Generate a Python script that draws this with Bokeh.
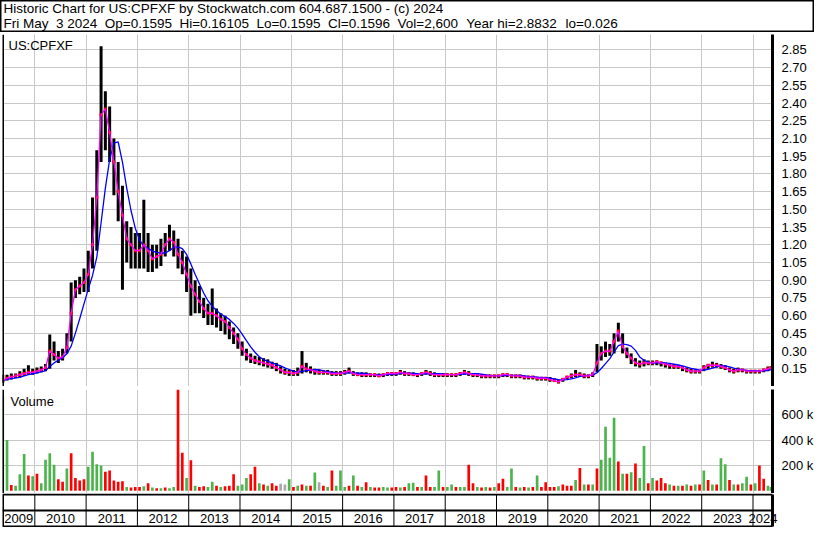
import pandas as pd
from bokeh.plotting import figure
from bokeh.layouts import column, row
from bokeh.models import Range1d, FixedTicker, PrintfTickFormatter, Span, Grid, Label
from bokeh.core.properties import value
from bokeh.embed import file_html
from bokeh.resources import INLINE

# ---------------- data (monthly, May 2009 .. May 2024) ----------------
months = pd.period_range("2009-05", "2024-05", freq="M")

close_2009 = [0.05, 0.07, 0.08, 0.09, 0.10, 0.11, 0.12, 0.12]
close_2010 = [0.13, 0.14, 0.16, 0.30, 0.27, 0.24, 0.25, 0.33, 0.62, 0.82, 0.85, 0.88]
close_2011 = [0.95, 1.20, 1.60, 2.30, 2.35, 2.15, 1.90, 1.65, 1.45, 1.25, 1.20, 1.15]
close_2012 = [1.15, 1.20, 1.15, 1.08, 1.10, 1.12, 1.20, 1.25, 1.22, 1.12, 1.05, 0.95]
close_2013 = [0.85, 0.78, 0.72, 0.66, 0.62, 0.62, 0.60, 0.57, 0.55, 0.50, 0.45, 0.40]
close_2014 = [0.32, 0.27, 0.24, 0.22, 0.21, 0.20, 0.19, 0.18, 0.16, 0.14, 0.12, 0.12]
close_2015 = [0.11, 0.12, 0.17, 0.15, 0.14, 0.13, 0.12, 0.12, 0.12, 0.11, 0.11, 0.11]
close_2016 = [0.12, 0.13, 0.11, 0.10, 0.10, 0.10, 0.10, 0.10, 0.09, 0.10, 0.11, 0.11]
close_2017 = [0.11, 0.12, 0.11, 0.11, 0.10, 0.10, 0.11, 0.12, 0.11, 0.10, 0.10, 0.10]
close_2018 = [0.10, 0.10, 0.10, 0.11, 0.12, 0.11, 0.10, 0.10, 0.09, 0.09, 0.09, 0.09]
close_2019 = [0.09, 0.10, 0.10, 0.09, 0.09, 0.09, 0.08, 0.08, 0.08, 0.07, 0.07, 0.07]
close_2020 = [0.06, 0.05, 0.04, 0.06, 0.08, 0.09, 0.10, 0.10, 0.09, 0.09, 0.10, 0.20]
close_2021 = [0.28, 0.30, 0.30, 0.38, 0.47, 0.34, 0.28, 0.24, 0.20, 0.19, 0.20, 0.20]
close_2022 = [0.20, 0.21, 0.20, 0.19, 0.18, 0.17, 0.17, 0.16, 0.14, 0.13, 0.13, 0.13]
close_2023 = [0.16, 0.18, 0.18, 0.18, 0.17, 0.16, 0.14, 0.13, 0.14, 0.14, 0.13, 0.13]
close_2024 = [0.13, 0.13, 0.14, 0.15, 0.16]

high_2009 = [0.10, 0.10, 0.11, 0.11, 0.13, 0.15, 0.18, 0.15]
high_2010 = [0.16, 0.17, 0.19, 0.44, 0.38, 0.30, 0.32, 0.45, 0.88, 0.90, 0.93, 1.00]
high_2011 = [1.15, 1.60, 2.00, 2.88, 2.50, 2.37, 2.10, 1.90, 1.70, 1.40, 1.35, 1.30]
high_2012 = [1.30, 1.58, 1.30, 1.20, 1.20, 1.25, 1.30, 1.37, 1.32, 1.25, 1.15, 1.10]
high_2013 = [1.00, 0.90, 0.85, 0.75, 0.70, 0.83, 0.66, 0.62, 0.60, 0.55, 0.50, 0.45]
high_2014 = [0.38, 0.32, 0.28, 0.26, 0.25, 0.24, 0.23, 0.21, 0.20, 0.17, 0.15, 0.14]
high_2015 = [0.14, 0.16, 0.30, 0.20, 0.17, 0.15, 0.14, 0.14, 0.14, 0.13, 0.13, 0.13]
high_2016 = [0.14, 0.16, 0.13, 0.12, 0.12, 0.12, 0.11, 0.11, 0.11, 0.11, 0.12, 0.12]
high_2017 = [0.12, 0.14, 0.13, 0.12, 0.12, 0.11, 0.12, 0.14, 0.13, 0.12, 0.11, 0.11]
high_2018 = [0.11, 0.11, 0.11, 0.12, 0.14, 0.13, 0.11, 0.11, 0.10, 0.10, 0.10, 0.10]
high_2019 = [0.10, 0.11, 0.11, 0.10, 0.10, 0.10, 0.09, 0.09, 0.09, 0.08, 0.08, 0.08]
high_2020 = [0.08, 0.07, 0.06, 0.07, 0.09, 0.11, 0.14, 0.12, 0.11, 0.10, 0.12, 0.36]
high_2021 = [0.34, 0.38, 0.36, 0.45, 0.54, 0.45, 0.33, 0.28, 0.24, 0.22, 0.23, 0.22]
high_2022 = [0.22, 0.22, 0.21, 0.20, 0.19, 0.19, 0.18, 0.17, 0.16, 0.15, 0.14, 0.14]
high_2023 = [0.18, 0.19, 0.21, 0.20, 0.19, 0.18, 0.16, 0.15, 0.16, 0.15, 0.14, 0.14]
high_2024 = [0.14, 0.14, 0.15, 0.17, 0.161]

low_2009 = [0.03, 0.05, 0.06, 0.07, 0.08, 0.09, 0.10, 0.10]
low_2010 = [0.11, 0.12, 0.13, 0.15, 0.22, 0.20, 0.22, 0.28, 0.38, 0.75, 0.78, 0.80]
low_2011 = [0.80, 1.00, 1.15, 1.90, 2.00, 1.90, 1.62, 1.40, 0.82, 1.05, 1.00, 1.00]
low_2012 = [1.00, 1.00, 0.97, 0.97, 1.00, 1.02, 1.10, 1.15, 1.10, 1.00, 0.95, 0.80]
low_2013 = [0.60, 0.62, 0.62, 0.58, 0.52, 0.52, 0.50, 0.47, 0.44, 0.40, 0.36, 0.32]
low_2014 = [0.26, 0.22, 0.20, 0.19, 0.18, 0.17, 0.16, 0.15, 0.13, 0.11, 0.10, 0.09]
low_2015 = [0.09, 0.09, 0.11, 0.12, 0.11, 0.10, 0.10, 0.10, 0.10, 0.09, 0.09, 0.09]
low_2016 = [0.10, 0.11, 0.09, 0.09, 0.08, 0.08, 0.08, 0.08, 0.08, 0.08, 0.09, 0.09]
low_2017 = [0.09, 0.10, 0.09, 0.09, 0.09, 0.08, 0.09, 0.10, 0.09, 0.08, 0.08, 0.08]
low_2018 = [0.08, 0.08, 0.08, 0.09, 0.10, 0.09, 0.08, 0.08, 0.07, 0.07, 0.07, 0.07]
low_2019 = [0.07, 0.08, 0.08, 0.07, 0.07, 0.07, 0.06, 0.06, 0.06, 0.05, 0.05, 0.05]
low_2020 = [0.04, 0.04, 0.026, 0.04, 0.06, 0.07, 0.08, 0.08, 0.07, 0.07, 0.08, 0.12]
low_2021 = [0.22, 0.25, 0.26, 0.28, 0.38, 0.28, 0.24, 0.19, 0.17, 0.16, 0.17, 0.18]
low_2022 = [0.18, 0.18, 0.17, 0.16, 0.15, 0.15, 0.15, 0.13, 0.12, 0.11, 0.11, 0.11]
low_2023 = [0.13, 0.15, 0.16, 0.16, 0.15, 0.14, 0.12, 0.11, 0.12, 0.12, 0.11, 0.11]
low_2024 = [0.11, 0.11, 0.12, 0.13, 0.1595]

# volume in thousands of shares
vol_2009 = [750, 400, 45, 40, 130, 290, 120, 115]
vol_2010 = [135, 60, 245, 296, 205, 90, 70, 175, 296, 100, 80, 90]
vol_2011 = [190, 307, 210, 200, 150, 160, 80, 70, 75, 30, 25, 30]
vol_2012 = [30, 35, 60, 25, 20, 20, 25, 20, 30, 950, 300, 100]
vol_2013 = [240, 40, 30, 35, 30, 70, 40, 30, 35, 40, 130, 40]
vol_2014 = [50, 100, 130, 190, 60, 50, 40, 60, 40, 55, 50, 90]
vol_2015 = [30, 40, 50, 40, 40, 144, 66, 40, 30, 160, 40, 160]
vol_2016 = [30, 40, 120, 40, 30, 66, 30, 25, 25, 30, 25, 25]
vol_2017 = [30, 25, 30, 60, 63, 30, 30, 120, 30, 30, 160, 30]
vol_2018 = [30, 50, 30, 30, 30, 205, 60, 30, 25, 30, 25, 30]
vol_2019 = [60, 95, 30, 175, 30, 25, 30, 25, 30, 120, 30, 66]
vol_2020 = [30, 30, 35, 50, 40, 40, 85, 180, 50, 50, 50, 175]
vol_2021 = [245, 505, 260, 577, 230, 135, 135, 145, 215, 100, 353, 60]
vol_2022 = [100, 80, 100, 60, 50, 40, 40, 40, 50, 40, 50, 50]
vol_2023 = [160, 85, 50, 50, 257, 210, 85, 50, 50, 60, 110, 50]
vol_2024 = [60, 200, 95, 40, 30]

# u = up (green), d = down (red), n = unchanged (grey)
dir_2009 = "uuduuudu"
dir_2010 = "duuuuddudddd"
dir_2011 = "uuuudddddudd"
dir_2012 = "dudududuuddu"
dir_2013 = "dudduududddu"
dir_2014 = "uuddududdnnu"
dir_2015 = "dududunduduu"
dir_2016 = "ududududduud"
dir_2017 = "duduududduud"
dir_2018 = "uuduuddududu"
dir_2019 = "dduududududd"
dir_2020 = "ddudddududud"
dir_2021 = "uuuudududuud"
dir_2022 = "udddudududud"
dir_2023 = "ududuududuud"
dir_2024 = "udduu"

price_ticks = [0.15, 0.30, 0.45, 0.60, 0.75, 0.90, 1.05, 1.20, 1.35, 1.50,
               1.65, 1.80, 1.95, 2.10, 2.25, 2.40, 2.55, 2.70, 2.85]
volume_ticks = [200000, 400000, 600000]
volume_tick_labels = {200000: "200 k", 400000: "400 k", 600000: "600 k"}
year_labels = [str(y) for y in range(2009, 2025)]

title_line1 = "Historic Chart for US:CPFXF by Stockwatch.com 604.687.1500 - (c) 2024"
title_line2 = ["Fri May", "3 2024", "Op=0.1595", "Hi=0.16105", "Lo=0.1595",
               "Cl=0.1596", "Vol=2,600", "Year hi=2.8832", "lo=0.026"]
symbol = "US:CPFXF"

# ---------------- assemble ----------------
def cat(prefix):
    out = []
    for y in range(2009, 2025):
        out += globals()[f"{prefix}_{y}"]
    return out

close = cat("close")
high = cat("high")
low = cat("low")
vol_k = cat("vol")
vdir = "".join(globals()[f"dir_{y}"] for y in range(2009, 2025))

X0, X1 = 2009.37, 2024.38
xs = [min(m.year + (m.month - 0.5) / 12.0, X1 - 0.03) for m in months]
ma_short = close
ma_long = pd.Series(close).rolling(5, min_periods=1).mean().tolist()
volume = [v * 1000 for v in vol_k]
vcol = {"u": "#4db34d", "d": "#ff0000", "n": "#a8a8a8"}
vcolors = [vcol[c] for c in vdir]

FONT = "Liberation Sans"
GRID = "#c8c8c8"
W = 814
FW = 770
HH = 32
xr = Range1d(X0, X1)
year_bounds = list(range(2010, 2025))
px_per_x = (X1 - X0) / FW

# Arial / Liberation Sans advance widths (per 1000 em) used to lay out title tokens
ADV = {" ": 278, ",": 278, ".": 278, ":": 278, "=": 584, "-": 333, "(": 333, ")": 333,
       "F": 611, "M": 833, "O": 778, "H": 722, "L": 556, "C": 722, "V": 667, "Y": 667,
       "a": 556, "e": 556, "h": 556, "i": 222, "l": 222, "o": 556, "p": 556, "r": 333,
       "y": 500}


def adv(s, size):
    return sum(ADV.get(ch, 556) for ch in s) * size / 1000.0


def bare(fw, fh, xrange, yrange, left=0):
    p = figure(frame_width=fw, frame_height=fh, x_range=xrange, y_range=yrange,
               toolbar_location=None, output_backend="svg", title=None,
               x_axis_location=None, y_axis_location=None,
               min_border_left=left, min_border_right=0, min_border_top=0, min_border_bottom=0,
               outline_line_color=None)
    p.grid.visible = False
    return p


def panel(fh, yr):
    p = figure(frame_width=FW, frame_height=fh, x_range=xr, y_range=yr,
               toolbar_location=None, output_backend="svg", title=None,
               x_axis_location=None, y_axis_location="right",
               min_border_left=2, min_border_right=42,
               min_border_top=0, min_border_bottom=0,
               outline_line_color=None)
    p.grid.visible = False
    p.add_layout(Span(location=X0, dimension="height", line_color="black", line_width=3))
    ax = p.yaxis[0]
    ax.major_tick_line_color = None
    ax.minor_tick_line_color = None
    ax.axis_line_color = "black"
    ax.axis_line_width = 3
    ax.major_label_text_font = FONT
    ax.major_label_text_font_size = "13px"
    ax.major_label_text_color = "black"
    ax.major_label_standoff = 3
    return p


# header
TS = 13.5
hdr = figure(frame_width=W, frame_height=HH, x_range=Range1d(0, W), y_range=Range1d(0, HH),
             toolbar_location=None, output_backend="svg", title=None,
             x_axis_location=None, y_axis_location=None,
             min_border_left=0, min_border_right=0, min_border_top=0, min_border_bottom=0,
             outline_line_color="black", outline_line_width=2)
hdr.grid.visible = False
hx2 = []
cur = 3.0
for tok in title_line2:
    hx2.append(cur)
    cur += adv(tok, TS) + adv("  ", TS)
hdr.text(x=[3.0], y=[HH - 0.8], text=[title_line1], text_font=value(FONT),
         text_font_size=value(f"{TS}px"), text_baseline="top", text_color="black")
hdr.text(x=hx2, y=[HH - 15.2] * len(hx2), text=title_line2,
         text_font=value(FONT), text_font_size=value(f"{TS}px"), text_baseline="top",
         text_color="black")

# full-width rule under the header
sep_a = bare(W, 2, Range1d(0, W), Range1d(0, 2))
sep_a.hbar(y=[1], height=2, left=0, right=W, fill_color="black", line_color=None)

# price panel
PH = 352
YP1 = 2.98
pp = panel(PH, Range1d(0, YP1))
pp.yaxis[0].ticker = FixedTicker(ticks=price_ticks)
pp.yaxis[0].formatter = PrintfTickFormatter(format="%.2f")
pp.add_layout(Grid(dimension=1, ticker=FixedTicker(ticks=price_ticks),
                   grid_line_color=GRID, grid_line_width=1))
pp.add_layout(Grid(dimension=0, ticker=FixedTicker(ticks=year_bounds),
                   grid_line_color=GRID, grid_line_width=1))
pp.segment(x0=xs, y0=low, x1=xs, y1=high, line_color="black", line_width=3)
pp.rect(x=xs, y=close, width=3, height=3, width_units="screen", height_units="screen",
        fill_color="#ff0000", line_color=None)
pp.line(xs, ma_long, line_color="#0000ff", line_width=1.3)
pp.line(xs, ma_short, line_color="#ff00ff", line_width=1.3)
pp.add_layout(Label(x=X0 + 6 * px_per_x, y=YP1 - 3 * YP1 / PH, text=symbol,
                    text_font=FONT, text_font_size="13px", text_baseline="top",
                    text_color="black"))

# full-width double rule between price and volume
sep_b = bare(W, 3, Range1d(0, W), Range1d(0, 3))
sep_b.hbar(y=[0.5, 2.5], height=1, left=0, right=W, fill_color="black", line_color=None)

# volume panel
VH = 104
V0, V1 = -22000, 800000
pv = panel(VH, Range1d(V0, V1))
pv.yaxis[0].ticker = FixedTicker(ticks=volume_ticks)
pv.yaxis[0].major_label_overrides = volume_tick_labels
pv.add_layout(Grid(dimension=1, ticker=FixedTicker(ticks=volume_ticks),
                   grid_line_color=GRID, grid_line_width=1))
pv.add_layout(Grid(dimension=0, ticker=FixedTicker(ticks=year_bounds),
                   grid_line_color=GRID, grid_line_width=1))
pv.vbar(x=xs, top=volume, bottom=0, width=0.052, fill_color=vcolors, line_color=None)
pv.add_layout(Label(x=X0 + 8 * px_per_x, y=V1 - 4 * (V1 - V0) / VH, text="Volume",
                    text_font=FONT, text_font_size="13px", text_baseline="top",
                    text_color="black"))

# date strip (own frame spanning the full width so the last label can overflow)
SFW = W - 2
ps = bare(SFW, 34, Range1d(X0, X0 + SFW * px_per_x), Range1d(-1.0 / 16, 2 + 1.0 / 16), left=2)
ps.segment(x0=[X0, X0, X0], y0=[0, 1, 2], x1=[X1, X1, X1], y1=[0, 1, 2],
           line_color="black", line_width=2)
ps.segment(x0=[X0, X1], y0=[0, 0], x1=[X0, X1], y1=[2, 2], line_color="black", line_width=3)
ps.segment(x0=year_bounds, y0=[0] * len(year_bounds), x1=year_bounds, y1=[2] * len(year_bounds),
           line_color="black", line_width=1)
lab_x = [(max(y, X0) + min(y + 1, X1)) / 2 for y in range(2009, 2025)]
lab_x[-1] = 2024 + 10 * px_per_x
ps.text(x=lab_x, y=[0.5] * len(lab_x), text=year_labels, text_font=value(FONT),
        text_font_size=value("13px"), text_align="center", text_baseline="middle",
        text_color="black")

layout = column(row(hdr), row(sep_a), column(pp, spacing=0), row(sep_b),
                column(pv, spacing=0), row(ps), spacing=0)
open("out.html", "w").write(file_html(layout, INLINE))
